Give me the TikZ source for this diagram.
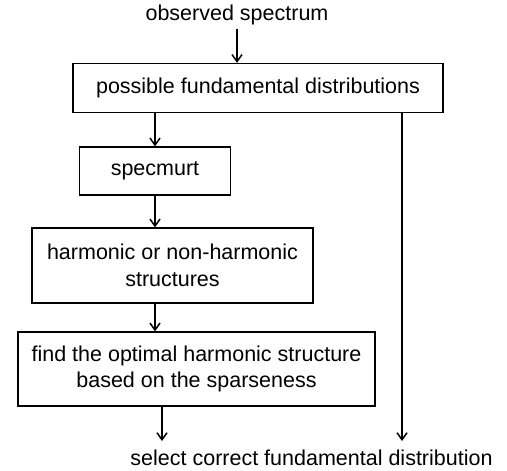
\documentclass[tikz,border=0pt]{standalone}
\usepackage{fontspec}
\setmainfont{Liberation Sans}
\usetikzlibrary{arrows.meta}
\tikzset{
  box/.style={draw, line width=1.3pt, inner sep=0pt, align=center},
  flow/.style={line width=1.5pt, -{Straight Barb[length=7pt,width=10pt,line width=1.5pt]}},
}
\begin{document}
\begin{tikzpicture}[x=1pt,y=-1pt,font=\fontsize{21.5}{26.5}\selectfont]
      \useasboundingbox (0,0) rectangle (507,471);
      \draw
        (237,15) node (obs){observed spectrum}
        (258,88) node[box,minimum width=370pt,minimum height=49pt] (pfd){possible fundamental distributions}
        (155,171) node[box,minimum width=151pt,minimum height=48pt] (spec){specmurt}
        (172.5,265.5) node[box,minimum width=281pt,minimum height=75pt] (harm){harmonic or non-harmonic\\structures}
        (196.5,369) node[box,minimum width=357pt,minimum height=74pt] (opt){find the optimal harmonic structure\\based on the sparseness}
        (311.5,458) node (sel){select correct fundamental distribution};
      \coordinate (e1) at (162,441);
      \coordinate (e2) at (402,441);
      \begin{scope}[flow]
        \draw (obs.south) -- (pfd.north -| obs.south);
        \draw (pfd.south -| spec.north) -- (spec.north);
        \draw (spec.south) -- (harm.north -| spec.south);
        \draw (harm.south -| spec.south) -- (opt.north -| spec.south);
        \draw (opt.south -| e1) -- (e1);
        \draw (pfd.south -| e2) -- (e2);
      \end{scope}
    \end{tikzpicture}
\end{document}
